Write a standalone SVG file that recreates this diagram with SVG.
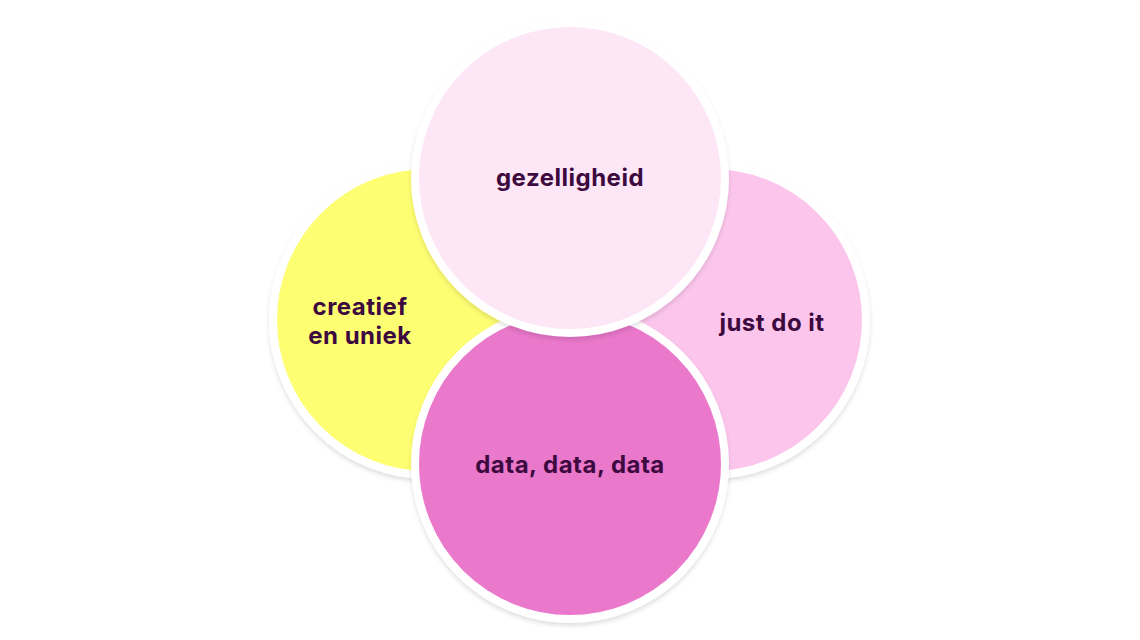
<svg xmlns="http://www.w3.org/2000/svg" width="1140" height="640" viewBox="0 0 1140 640">
<style>
.ring{stroke:#ffffff;stroke-width:8;filter:url(#sh)}
.lbl{font-family:Inter,"Open Sans",sans-serif;font-weight:700;font-size:24px;letter-spacing:0.5px;fill:#3d0a3f;text-anchor:middle}
</style>
<defs>
<filter id="sh" x="-10%" y="-10%" width="120%" height="125%">
<feDropShadow dx="0" dy="3" stdDeviation="2" flood-color="#000" flood-opacity="0.12"/>
</filter>
</defs>
<rect width="1140" height="640" fill="#ffffff"/>
<g id="node-creatief">
<circle class="ring" cx="428" cy="320" r="155" fill="#fefe73"/>
<text class="lbl" x="360" y="315">creatief</text>
<text class="lbl" x="360" y="344">en uniek</text>
</g>
<g id="node-justdoit">
<circle class="ring" cx="711" cy="320" r="155" fill="#fcc6ec"/>
<text class="lbl" x="772" y="331">just do it</text>
</g>
<g id="node-data">
<circle class="ring" cx="570" cy="464" r="155" fill="#ea78cb"/>
<text class="lbl" x="570" y="473">data, data, data</text>
</g>
<g id="node-gezelligheid">
<circle class="ring" cx="570" cy="178" r="155" fill="#fde6f6"/>
<text class="lbl" x="570" y="186">gezelligheid</text>
</g>
<g id="connectors"></g>
</svg>
